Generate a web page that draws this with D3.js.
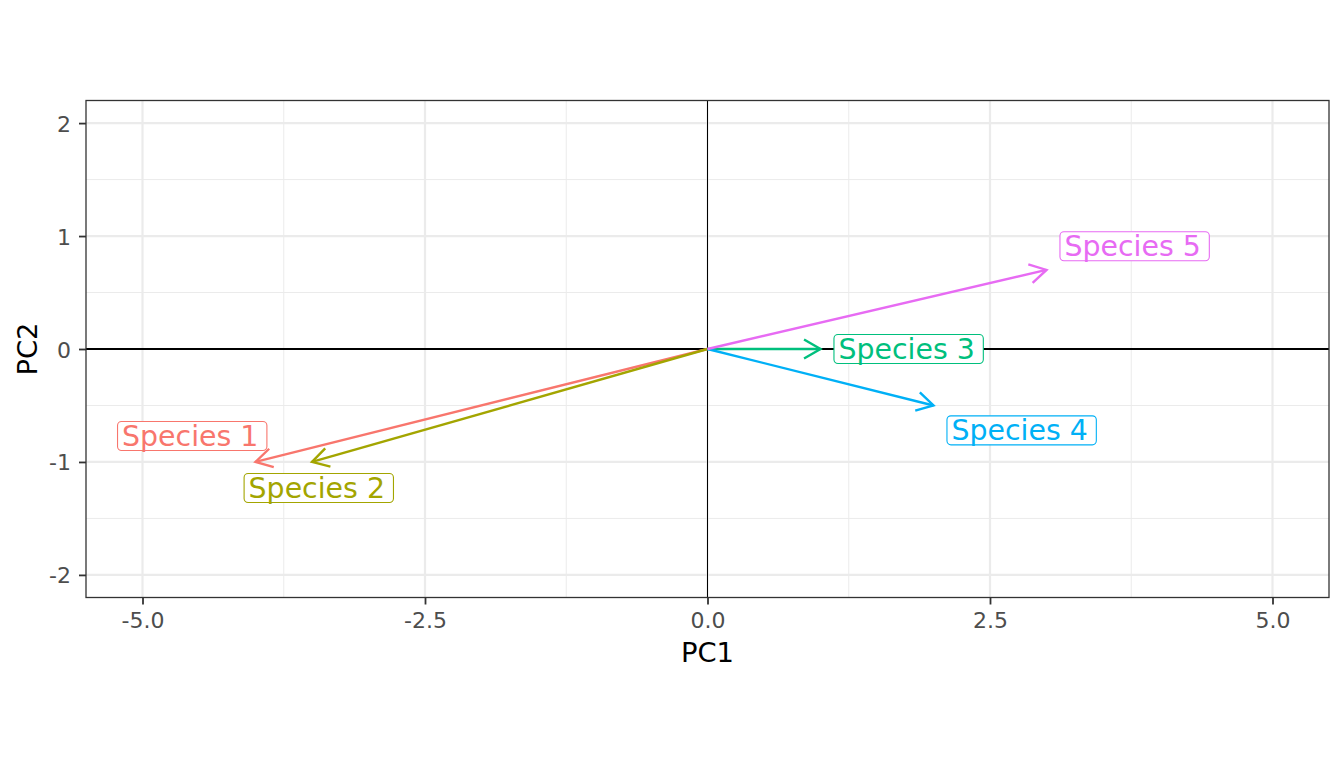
<!DOCTYPE html>
<html>
<head>
<meta charset="utf-8">
<script src="https://cdn.jsdelivr.net/npm/d3@7"></script>
<style>
  body { margin: 0; background: #fff; }
  svg { display: block; font-family: "DejaVu Sans", sans-serif; }
</style>
</head>
<body>
<svg width="1344" height="768"></svg>
<script>
// Loadings of each species on the two components
const species = ["Species 1", "Species 2", "Species 3", "Species 4", "Species 5"];
const pc1 = [-4, -3.5, 1, 2, 3];
const pc2 = [-1, -1, 0, -0.5, 0.7];
// Where the (repelled) labels ended up, in data units
const labelPC1 = [-4.56, -3.44, 1.78, 2.78, 3.78];
const labelPC2 = [-0.77, -1.23, 0, -0.72, 0.91];
const colours = ["#F8766D", "#A3A500", "#00BF7D", "#00B0F6", "#E76BF3"];

const xTicks = [-5, -2.5, 0, 2.5, 5];
const xMinor = [-3.75, -1.25, 1.25, 3.75];
const yTicks = [-2, -1, 0, 1, 2];
const yMinor = [-1.5, -0.5, 0.5, 1.5];

const panel = { left: 86, right: 1329, top: 100.5, bottom: 597.5 };

const svg = d3.select("svg");

const x = d3.scaleLinear().domain([-5.5, 5.5]).range([panel.left, panel.right]);
const y = d3.scaleLinear().domain([-2.2, 2.2]).range([panel.bottom, panel.top]);

// plain hyphen minus like R does
const hyphen = f => d => f(d).replace("\u2212", "-");

// Grid
const grid = svg.append("g").attr("class", "grid").attr("stroke", "#EBEBEB");
grid.append("g").selectAll("line").data(xMinor).join("line")
  .attr("x1", d => x(d)).attr("x2", d => x(d))
  .attr("y1", panel.top).attr("y2", panel.bottom)
  .attr("stroke-width", 1);
grid.append("g").selectAll("line").data(yMinor).join("line")
  .attr("y1", d => y(d)).attr("y2", d => y(d))
  .attr("x1", panel.left).attr("x2", panel.right)
  .attr("stroke-width", 1);
grid.append("g").selectAll("line").data(xTicks).join("line")
  .attr("x1", d => x(d)).attr("x2", d => x(d))
  .attr("y1", panel.top).attr("y2", panel.bottom)
  .attr("stroke-width", 2.2);
grid.append("g").selectAll("line").data(yTicks).join("line")
  .attr("y1", d => y(d)).attr("y2", d => y(d))
  .attr("x1", panel.left).attr("x2", panel.right)
  .attr("stroke-width", 2.2);

// Zero lines
const zero = svg.append("g").attr("stroke", "#000").attr("stroke-width", 1.2)
  .attr("shape-rendering", "crispEdges");
zero.append("line")
  .attr("x1", panel.left).attr("x2", panel.right)
  .attr("y1", y(0)).attr("y2", y(0));
zero.append("line")
  .attr("x1", x(0)).attr("x2", x(0))
  .attr("y1", panel.top).attr("y2", panel.bottom);

// Arrows
const headLen = 19;
const headAngle = Math.PI / 6;
const arrows = svg.append("g").attr("class", "arrows")
  .attr("fill", "none").attr("stroke-width", 2.4)
  .attr("stroke-linecap", "butt").attr("stroke-linejoin", "miter");

species.forEach((s, i) => {
  const x0 = x(0), y0 = y(0);
  const x1 = x(pc1[i]), y1 = y(pc2[i]);
  const ang = Math.atan2(y0 - y1, x0 - x1);
  const a1 = ang + headAngle, a2 = ang - headAngle;
  arrows.append("line")
    .attr("x1", x0).attr("y1", y0).attr("x2", x1).attr("y2", y1)
    .attr("stroke", colours[i]);
  arrows.append("path")
    .attr("d", `M${x1 + headLen * Math.cos(a1)},${y1 + headLen * Math.sin(a1)}` +
               `L${x1},${y1}` +
               `L${x1 + headLen * Math.cos(a2)},${y1 + headLen * Math.sin(a2)}`)
    .attr("stroke", colours[i]);
});

// Labels with rounded boxes
const labels = svg.append("g").attr("class", "labels");
species.forEach((s, i) => {
  const cx = x(labelPC1[i]), cy = y(labelPC2[i]);
  const g = labels.append("g");
  const rect = g.append("rect");
  const t = g.append("text")
    .attr("x", cx - 2).attr("y", cy + 9.8)
    .attr("text-anchor", "middle")
    .attr("font-size", 28.4)
    .attr("fill", colours[i])
    .text(s);
  const w = t.node().getComputedTextLength() + 13;
  const h = 29;
  rect.attr("x", cx - w / 2).attr("y", cy - h / 2)
    .attr("width", w).attr("height", h)
    .attr("rx", 4).attr("ry", 4)
    .attr("fill", "#fff")
    .attr("stroke", colours[i]).attr("stroke-width", 1.1);
});

// Panel border
svg.append("rect")
  .attr("x", panel.left).attr("y", panel.top)
  .attr("width", panel.right - panel.left).attr("height", panel.bottom - panel.top)
  .attr("fill", "none").attr("stroke", "#333333").attr("stroke-width", 1.3);

// Axes
const xAxis = svg.append("g")
  .attr("transform", `translate(0,${panel.bottom})`)
  .call(d3.axisBottom(x).tickValues(xTicks).tickSize(7).tickPadding(6)
    .tickFormat(hyphen(d3.format(".1f"))));
const yAxis = svg.append("g")
  .attr("transform", `translate(${panel.left},0)`)
  .call(d3.axisLeft(y).tickValues(yTicks).tickSize(7).tickPadding(6)
    .tickFormat(hyphen(d3.format("d"))));

[xAxis, yAxis].forEach(ax => {
  ax.select(".domain").remove();
  ax.selectAll(".tick line").attr("stroke", "#333333").attr("stroke-width", 1.8);
  ax.selectAll(".tick text")
    .attr("fill", "#4D4D4D")
    .attr("font-size", 22)
    .attr("font-family", "DejaVu Sans, sans-serif");
});
xAxis.selectAll(".tick text").attr("dy", null).attr("y", 30);
yAxis.selectAll(".tick text").attr("dy", null).attr("x", -15).attr("y", 8);

// Axis titles
svg.append("text")
  .attr("x", (panel.left + panel.right) / 2).attr("y", 662)
  .attr("text-anchor", "middle").attr("font-size", 27.4).attr("fill", "#000")
  .text("PC1");
svg.append("text")
  .attr("transform", `translate(37,${(panel.top + panel.bottom) / 2}) rotate(-90)`)
  .attr("text-anchor", "middle").attr("font-size", 27.4).attr("fill", "#000")
  .text("PC2");
</script>
</body>
</html>
